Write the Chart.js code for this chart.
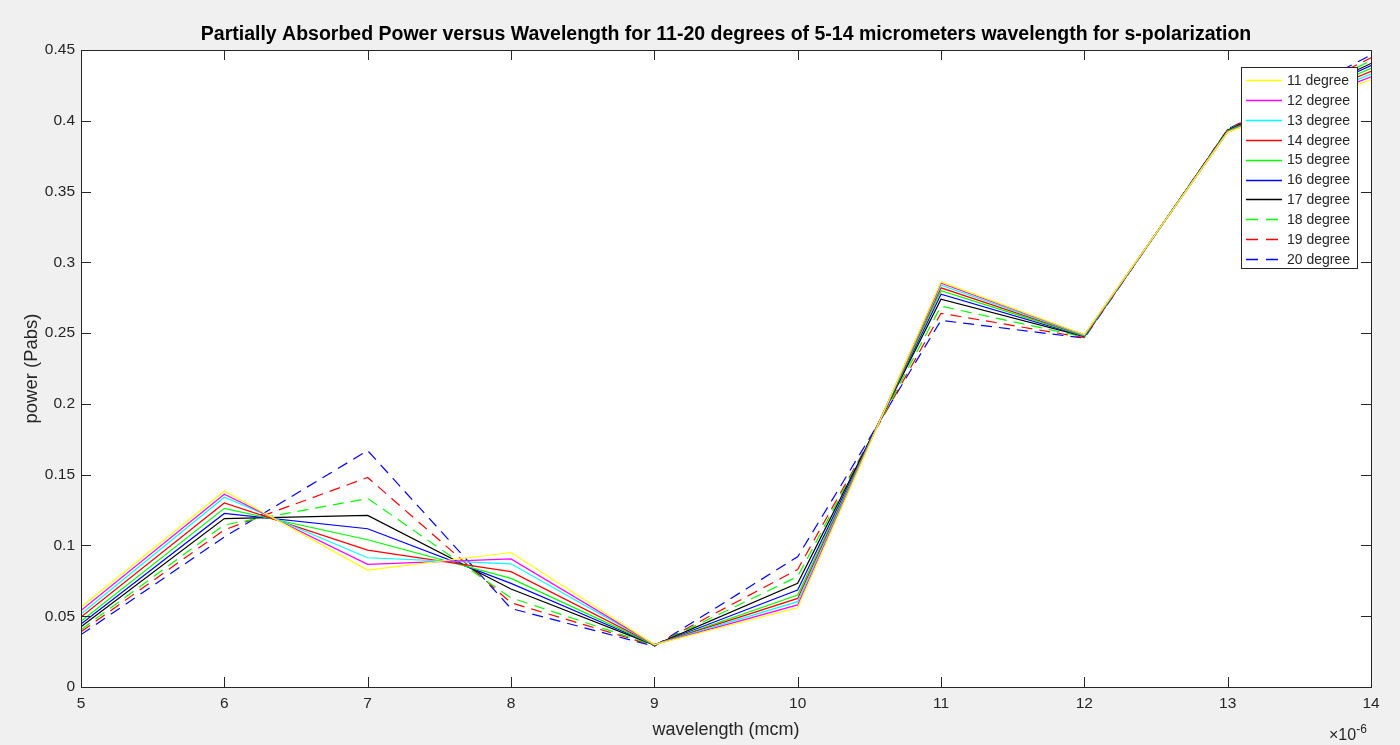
<!DOCTYPE html>
<html>
<head>
<meta charset="utf-8">
<script src="https://cdn.jsdelivr.net/npm/chart.js@4/dist/chart.umd.min.js"></script>
<style>
html,body{margin:0;padding:0;background:#f0f0f0;}
#wrap{width:1400px;height:745px;position:relative;}
</style>
</head>
<body>
<div id="wrap"><canvas id="c" width="1400" height="745"></canvas></div>
<script>
// ---- data ----
const wavelengths = [5, 6, 7, 8, 9, 10, 11, 12, 13, 14]; // x 1e-6 m
const seriesLabels = ['11 degree','12 degree','13 degree','14 degree','15 degree','16 degree','17 degree','18 degree','19 degree','20 degree'];
const deg11 = [0.0565, 0.1385, 0.0826, 0.0950, 0.0300, 0.0560, 0.2862, 0.2490, 0.3920, 0.4290];
const deg12 = [0.0540, 0.1362, 0.0866, 0.0905, 0.0300, 0.0580, 0.2853, 0.2488, 0.3920, 0.4310];
const deg13 = [0.0515, 0.1340, 0.0913, 0.0870, 0.0300, 0.0603, 0.2838, 0.2485, 0.3922, 0.4330];
const deg14 = [0.0495, 0.1300, 0.0967, 0.0815, 0.0300, 0.0626, 0.2820, 0.2483, 0.3925, 0.4350];
const deg15 = [0.0465, 0.1262, 0.1040, 0.0767, 0.0298, 0.0650, 0.2800, 0.2480, 0.3928, 0.4370];
const deg16 = [0.0445, 0.1226, 0.1118, 0.0732, 0.0297, 0.0685, 0.2775, 0.2478, 0.3930, 0.4390];
const deg17 = [0.0425, 0.1190, 0.1212, 0.0692, 0.0296, 0.0732, 0.2740, 0.2475, 0.3933, 0.4405];
const deg18 = [0.0405, 0.1145, 0.1332, 0.0630, 0.0294, 0.0780, 0.2690, 0.2472, 0.3935, 0.4425];
const deg19 = [0.0390, 0.1110, 0.1480, 0.0595, 0.0292, 0.0830, 0.2640, 0.2468, 0.3938, 0.4445];
const deg20 = [0.0370, 0.1060, 0.1670, 0.0555, 0.0288, 0.0920, 0.2590, 0.2465, 0.3940, 0.4465];
const allSeries = [deg11, deg12, deg13, deg14, deg15, deg16, deg17, deg18, deg19, deg20];
const xTickValues = [5, 6, 7, 8, 9, 10, 11, 12, 13, 14];
const yTickValues = [0, 0.05, 0.1, 0.15, 0.2, 0.25, 0.3, 0.35, 0.4, 0.45];
const chartTitle = 'Partially Absorbed Power versus Wavelength for 11-20 degrees of 5-14 micrometers wavelength for s-polarization';

// ---- styles ----
const colors = ['#ffff00','#ff00ff','#00ffff','#ff0000','#00ff00','#0000ff','#000000','#00ff00','#ff0000','#0000ff'];
const dashed = [false,false,false,false,false,false,false,true,true,true];
const DASH = [11, 7];
const FONT = '"Liberation Sans", Arial, Helvetica, sans-serif';
const AXIS_COLOR = '#262626';

const datasets = allSeries.map((arr, i) => ({
  label: seriesLabels[i],
  data: arr.map((v, j) => ({x: wavelengths[j], y: v})),
  borderColor: colors[i],
  backgroundColor: colors[i],
  borderWidth: 1.2,
  borderDash: dashed[i] ? DASH : [],
  pointRadius: 0,
  tension: 0,
  fill: false
}));

const matlabPlugin = {
  id: 'matlab',
  beforeDraw(chart) {
    const {ctx, chartArea: a} = chart;
    ctx.save();
    ctx.fillStyle = '#f0f0f0';
    ctx.fillRect(0, 0, chart.width, chart.height);
    ctx.fillStyle = '#ffffff';
    ctx.fillRect(a.left, a.top, a.right - a.left, a.bottom - a.top);
    ctx.restore();
  },
  afterDraw(chart) {
    const {ctx, chartArea: a, scales} = chart;
    ctx.save();
    // box
    ctx.strokeStyle = AXIS_COLOR;
    ctx.lineWidth = 1;
    ctx.strokeRect(Math.round(a.left) + 0.5, Math.round(a.top) + 0.5,
                   Math.round(a.right - a.left), Math.round(a.bottom - a.top));
    // inward ticks on all sides
    const TL = 10;
    ctx.beginPath();
    xTickValues.forEach(v => {
      const px = Math.round(scales.x.getPixelForValue(v)) + 0.5;
      ctx.moveTo(px, a.bottom); ctx.lineTo(px, a.bottom - TL);
      ctx.moveTo(px, a.top); ctx.lineTo(px, a.top + TL);
    });
    yTickValues.forEach(v => {
      const py = Math.round(scales.y.getPixelForValue(v)) + 0.5;
      ctx.moveTo(a.left, py); ctx.lineTo(a.left + TL, py);
      ctx.moveTo(a.right, py); ctx.lineTo(a.right - TL, py);
    });
    ctx.stroke();

    // exponent label
    ctx.fillStyle = AXIS_COLOR;
    ctx.textBaseline = 'alphabetic';
    ctx.textAlign = 'left';
    ctx.font = '16px ' + FONT;
    const ex = a.right - 42, ey = a.bottom + 53;
    ctx.fillText('\u00d710', ex, ey);
    const w = ctx.measureText('\u00d710').width;
    ctx.font = '12px ' + FONT;
    ctx.fillText('-6', ex + w, ey - 7);

    // legend
    const lx = 1241, ly = 67, lw = 116, lh = 201;
    ctx.fillStyle = '#ffffff';
    ctx.fillRect(lx, ly, lw, lh);
    ctx.strokeStyle = AXIS_COLOR;
    ctx.lineWidth = 1;
    ctx.strokeRect(lx + 0.5, ly + 0.5, lw, lh);
    ctx.font = '14px ' + FONT;
    ctx.textBaseline = 'middle';
    seriesLabels.forEach((label, i) => {
      const y = ly + 13 + i * 19.9;
      ctx.strokeStyle = colors[i];
      ctx.lineWidth = 1.3;
      ctx.setLineDash(dashed[i] ? [12, 8] : []);
      ctx.beginPath();
      ctx.moveTo(lx + 5, Math.round(y) + 0.5);
      ctx.lineTo(lx + 41, Math.round(y) + 0.5);
      ctx.stroke();
      ctx.setLineDash([]);
      ctx.fillStyle = AXIS_COLOR;
      ctx.fillText(label, lx + 46, y + 1);
    });
    ctx.restore();
  }
};

new Chart(document.getElementById('c'), {
  type: 'line',
  data: { datasets },
  options: {
    responsive: false,
    animation: false,
    devicePixelRatio: 1,
    layout: { padding: { left: 0, right: 29, top: 0, bottom: 0 } },
    plugins: {
      legend: { display: false },
      tooltip: { enabled: false },
      title: { display: false }
    },
    scales: {
      x: {
        type: 'linear',
        min: 5, max: 14,
        afterFit(s) { s.height = 58; },
        afterBuildTicks(s) { s.ticks = xTickValues.map(v => ({value: v})); },
        grid: { display: false, drawTicks: false },
        border: { display: false },
        ticks: { color: AXIS_COLOR, font: { family: FONT, size: 15.5 }, padding: 7, maxRotation: 0,
                 callback: v => String(v) },
        title: { display: true, text: 'wavelength (mcm)', color: AXIS_COLOR,
                 font: { family: FONT, size: 18 }, padding: { top: 0, bottom: 4 } }
      },
      xTop: {
        type: 'linear',
        position: 'top',
        axis: 'x',
        min: 5, max: 14,
        afterFit(s) { s.height = 50; },
        grid: { display: false, drawTicks: false },
        border: { display: false },
        ticks: { display: false },
        title: { display: true, text: chartTitle, color: '#000000',
                 font: { family: FONT, size: 19.5, weight: 'bold' }, padding: { top: 23.3, bottom: 0 } }
      },
      y: {
        type: 'linear',
        min: 0, max: 0.45,
        afterFit(s) { s.width = 81; },
        afterBuildTicks(s) { s.ticks = yTickValues.map(v => ({value: v})); },
        grid: { display: false, drawTicks: false },
        border: { display: false },
        ticks: { color: AXIS_COLOR, font: { family: FONT, size: 15.5 }, padding: 6,
                 callback: v => String(Number(v.toFixed(2))) },
        title: { display: true, text: 'power (Pabs)', color: AXIS_COLOR,
                 font: { family: FONT, size: 18.5 }, padding: { top: 21, bottom: 0 } }
      }
    }
  },
  plugins: [matlabPlugin]
});
</script>
</body>
</html>
